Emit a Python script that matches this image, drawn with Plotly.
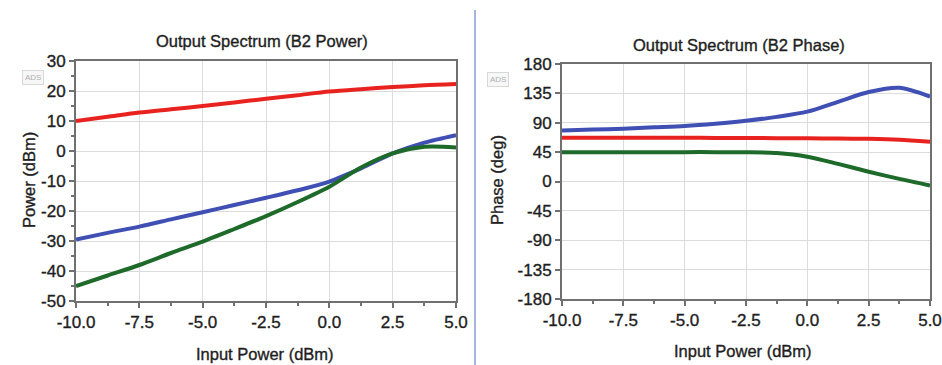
import plotly.graph_objects as go

# ---- data ----
input_power = [-10, -8.75, -7.5, -6.25, -5, -3.75, -2.5, -1.25, 0, 1.25, 2.5, 3.75, 5]

power_red = [10, 11.4, 12.8, 13.9, 15, 16.2, 17.4, 18.6, 19.8, 20.6, 21.3, 21.9, 22.3]
power_blue = [-29.5, -27.3, -25.2, -22.8, -20.4, -18, -15.6, -13.1, -10.2, -5.8, -0.8, 2.8, 5.3]
power_green = [-45, -41.5, -38, -34, -30.2, -26, -21.7, -17, -11.9, -5.5, -0.8, 1.4, 1.2]

phase_blue = [78, 79.5, 81, 83, 85, 88.5, 93, 99, 107, 122, 137, 143.5, 130]
phase_red = [67, 67, 67, 67, 67, 66.8, 66.6, 66.4, 66.2, 65.8, 65.3, 64, 61]
phase_green = [45, 45, 45, 45, 45, 45, 44.8, 43.5, 38, 27, 15, 4, -6]

x_ticks = [-10, -7.5, -5, -2.5, 0, 2.5, 5]
x_tick_labels = ["-10.0", "-7.5", "-5.0", "-2.5", "0.0", "2.5", "5.0"]
power_ticks = [30, 20, 10, 0, -10, -20, -30, -40, -50]
power_tick_labels = ["30", "20", "10", "0", "-10", "-20", "-30", "-40", "-50"]
phase_ticks = [180, 135, 90, 45, 0, -45, -90, -135, -180]
phase_tick_labels = ["180", "135", "90", "45", "0", "-45", "-90", "-135", "-180"]

titles = ["Output Spectrum (B2 Power)", "Output Spectrum (B2 Phase)"]
x_title = "Input Power (dBm)"
y_titles = ["Power (dBm)", "Phase (deg)"]

RED = "#e8231f"
BLUE = "#3f4fb3"
GREEN = "#1d6a2a"
W, H = 942, 365
FONT = "Liberation Sans, Arial, sans-serif"
TXT = "#1e1e1e"

fig = go.Figure()

def add(x, y, color, xa, ya):
    fig.add_trace(go.Scatter(x=x, y=y, mode="lines", xaxis=xa, yaxis=ya,
                             line=dict(color=color, width=4, shape="spline", smoothing=0.8),
                             hoverinfo="skip", showlegend=False))

add(input_power, power_red, RED, "x", "y")
add(input_power, power_blue, BLUE, "x", "y")
add(input_power, power_green, GREEN, "x", "y")
add(input_power, phase_red, RED, "x2", "y2")
add(input_power, phase_blue, BLUE, "x2", "y2")
add(input_power, phase_green, GREEN, "x2", "y2")

axis_common = dict(showline=True, linecolor="#707070", linewidth=2, mirror=True,
                   showgrid=True, gridcolor="#dcdcdc", gridwidth=1, zeroline=False,
                   ticks="outside", ticklen=5, tickcolor="#707070", tickwidth=1.5,
                   automargin=False,
                   tickfont=dict(family=FONT, size=17, color=TXT))

xd1 = [76 / W, 456 / W]
xd2 = [562 / W, 930 / W]
yd1 = [(H - 301) / H, (H - 61) / H]
yd2 = [(H - 299) / H, (H - 64) / H]

fig.update_layout(
    width=W, height=H, margin=dict(l=0, r=0, t=0, b=0, pad=0, autoexpand=False),
    paper_bgcolor="white", plot_bgcolor="white",
    xaxis=dict(domain=xd1, anchor="y", range=[-10, 5], tickvals=x_ticks, ticktext=x_tick_labels,
               minor=dict(dtick=1.25, tick0=-10, ticks="outside", ticklen=3, tickcolor="#707070", showgrid=False),
               **axis_common),
    yaxis=dict(domain=yd1, anchor="x", range=[-50, 30], tickvals=power_ticks, ticktext=power_tick_labels,
               minor=dict(dtick=5, tick0=0, ticks="outside", ticklen=3, tickcolor="#707070", showgrid=False),
               **axis_common),
    xaxis2=dict(domain=xd2, anchor="y2", range=[-10, 5], tickvals=x_ticks, ticktext=x_tick_labels,
                minor=dict(dtick=1.25, tick0=-10, ticks="outside", ticklen=3, tickcolor="#707070", showgrid=False),
                **axis_common),
    yaxis2=dict(domain=yd2, anchor="x2", range=[-180, 180], tickvals=phase_ticks, ticktext=phase_tick_labels,
                **axis_common),
)

ann_font = dict(family=FONT, size=16.5, color=TXT)
annotations = [
    dict(text=titles[0], x=262, y=41),
    dict(text=titles[1], x=739, y=45),
    dict(text=x_title, x=265, y=354),
    dict(text=x_title, x=743, y=351),
]
for a in annotations:
    fig.add_annotation(text=a["text"], xref="paper", yref="paper",
                       x=a["x"] / W, y=1 - a["y"] / H, showarrow=False,
                       xanchor="center", yanchor="middle", font=ann_font)

fig.add_annotation(text=y_titles[0], xref="paper", yref="paper", x=18 / W, y=1 - 180 / H,
                   textangle=-90, showarrow=False, font=ann_font)
fig.add_annotation(text=y_titles[1], xref="paper", yref="paper", x=497 / W, y=1 - 180 / H,
                   textangle=-90, showarrow=False, font=ann_font)

for ax_, ay_ in [(22, 70), (498, 72)]:
    fig.add_annotation(text="ADS", xref="paper", yref="paper", x=ax_ / W, y=1 - ay_ / H,
                       showarrow=False, font=dict(family=FONT, size=8, color="#b0b0b0"),
                       bordercolor="#d8d8d8", borderwidth=1, borderpad=2, bgcolor="#f7f7f7")

# divider line between panels
fig.add_shape(type="line", xref="paper", yref="paper", x0=475 / W, x1=475 / W,
              y0=0, y1=1 - 10 / H, line=dict(color="#a8b3e0", width=2))

post = (
    "document.body.style.margin='0';document.body.style.overflow='hidden';"
    "document.querySelectorAll('.main-svg text, .main-svg .annotation-text').forEach(function(t){"
    "var fs=parseFloat(window.getComputedStyle(t).fontSize);"
    "if(fs>12){t.style.stroke='#1e1e1e';t.style.strokeWidth='0.35px';}});"
)
fig.write_html("out.html", config={"displayModeBar": False}, post_script=post)
